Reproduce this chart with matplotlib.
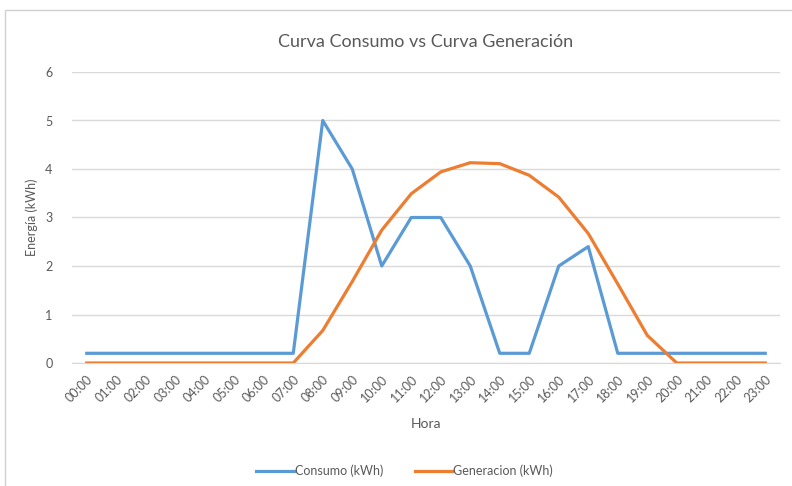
import matplotlib
matplotlib.use("Agg")
import matplotlib.pyplot as plt
from matplotlib.patches import Rectangle

# data
horas = ["%02d:00" % h for h in range(24)]
consumo = [0.2, 0.2, 0.2, 0.2, 0.2, 0.2, 0.2, 0.2, 5, 4, 2, 3,
           3, 2, 0.2, 0.2, 2, 2.4, 0.2, 0.2, 0.2, 0.2, 0.2, 0.2]
generacion = [0, 0, 0, 0, 0, 0, 0, 0, 0.67, 1.68, 2.74, 3.49,
              3.94, 4.13, 4.11, 3.87, 3.42, 2.67, 1.63, 0.57, 0, 0, 0, 0]
yticks = [0, 1, 2, 3, 4, 5, 6]

plt.rcParams['font.family'] = ['Lato', 'DejaVu Sans']
gris = '#595959'

fig = plt.figure(figsize=(7.92, 4.86), dpi=100)
# thin chart border like the screenshot
fig.patches.append(Rectangle((5/792, -0.1), 1.0, 1 - 10/486 + 0.1, transform=fig.transFigure,
                             fill=False, edgecolor='#D0D0D0', lw=1))

ax = fig.add_axes([72/792, 1 - 363/486, 708/792, 291/486])
x = list(range(len(horas)))
ax.plot(x, consumo, color='#5B9BD5', lw=2.3, label='Consumo (kWh)', zorder=3)
ax.plot(x, generacion, color='#ED7D31', lw=2.3, label='Generacion (kWh)', zorder=3)

ax.set_xlim(-0.5, 23.5)
ax.set_ylim(0, 6)
ax.set_yticks(yticks)
ax.set_xticks(x)
ax.set_xticklabels(horas, rotation=45, ha='right', rotation_mode='anchor', fontsize=9, color=gris)
ax.tick_params(axis='y', length=0, labelsize=9, labelcolor=gris, pad=14)
ax.tick_params(axis='x', length=0, pad=7)
ax.grid(axis='y', color='#D9D9D9', lw=1)
ax.set_axisbelow(True)
for s in ['top', 'right', 'left']:
    ax.spines[s].set_visible(False)
ax.spines['bottom'].set_color('#D9D9D9')

ax.set_title('Curva Consumo vs Curva Generación', fontsize=13, color=gris, pad=18)
ax.set_ylabel('Energía (kWh)', fontsize=9, color=gris)
ax.yaxis.set_label_coords(-0.048, 0.5)
ax.set_xlabel('Hora', fontsize=10, color=gris, labelpad=10)

ax.legend(loc='upper center', bbox_to_anchor=(0.47, -0.31), ncol=2, frameon=False,
          fontsize=9, labelcolor=gris, handlelength=3.0, handletextpad=0.1, columnspacing=2.5)

fig.savefig('out.png', dpi=100)
